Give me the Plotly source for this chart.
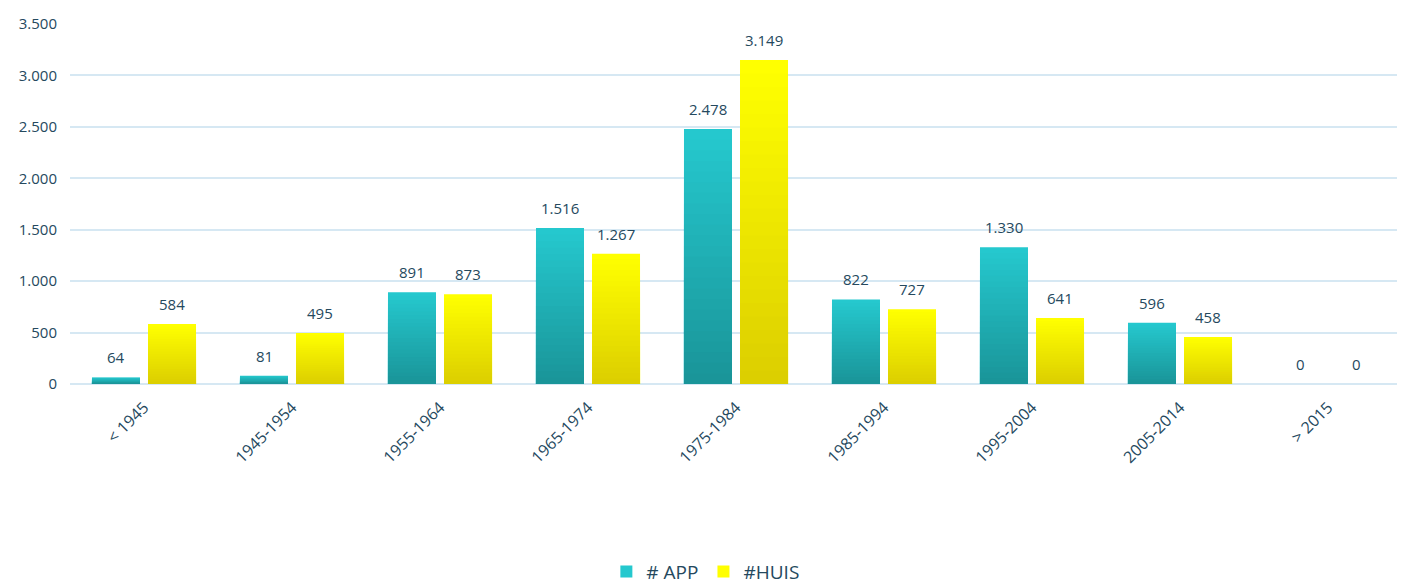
import plotly.graph_objects as go

categories = ["< 1945", "1945-1954", "1955-1964", "1965-1974", "1975-1984",
              "1985-1994", "1995-2004", "2005-2014", "> 2015"]
app_values = [64, 81, 891, 1516, 2478, 822, 1330, 596, 0]
huis_values = [584, 495, 873, 1267, 3149, 727, 641, 458, 0]
series_names = ["# APP", "#HUIS"]
y_ticks = [0, 500, 1000, 1500, 2000, 2500, 3000, 3500]

FONT = "Open Sans"
TEXT_COL = "#25495e"
APP_TOP, APP_BOTTOM = (37, 200, 206), (26, 149, 153)
HUIS_TOP, HUIS_BOTTOM = (255, 255, 0), (220, 207, 0)
N_BANDS = 24

def mix(c1, c2, t):
    return "rgb(%d,%d,%d)" % tuple(round(a + (b - a) * t) for a, b in zip(c1, c2))

fig = go.Figure()
for name, vals, top, bottom, grp in ((series_names[0], app_values, APP_TOP, APP_BOTTOM, "app"),
                                     (series_names[1], huis_values, HUIS_TOP, HUIS_BOTTOM, "huis")):
    for k in range(N_BANDS):
        frac = 1 - k / N_BANDS
        t = k / (N_BANDS - 1)
        fig.add_trace(go.Bar(
            x=categories, y=[v * frac for v in vals], name=name, offsetgroup=grp,
            legendgroup=grp, showlegend=(k == 0), hoverinfo="skip" if k else None,
            marker=dict(color=mix(top, bottom, t), line=dict(width=0)),
        ))

def fmt(v):
    return f"{v:,}".replace(",", ".")

annotations = []
for i, c in enumerate(categories):
    for vals, shift in ((app_values, -28), (huis_values, 28)):
        annotations.append(dict(x=c, y=vals[i], xref="x", yref="y", text=fmt(vals[i]),
                                showarrow=False, xshift=shift, yshift=8, yanchor="bottom",
                                font=dict(family=FONT, size=15, color=TEXT_COL)))

# the page body adds an 8px offset, so margins compensate for it
fig.update_layout(
    width=1405, height=584,
    margin=dict(l=62, r=11, t=16, b=208, autoexpand=False),
    paper_bgcolor="white", plot_bgcolor="white",
    barmode="group", bargap=0.243, bargroupgap=0.143,
    separators=",.",
    font=dict(family=FONT, size=15, color=TEXT_COL),
    showlegend=True,
    legend=dict(orientation="h", x=0.477, xanchor="center", y=-0.521, yanchor="middle",
                font=dict(family=FONT, size=19, color=TEXT_COL), itemwidth=30,
                traceorder="normal"),
    annotations=annotations,
    xaxis=dict(tickangle=-45, showgrid=False, showline=False, ticks="", automargin=False,
               ticklabelstandoff=10,
               tickfont=dict(family=FONT, size=16, color=TEXT_COL)),
    yaxis=dict(range=[0, 3500], tickvals=y_ticks, ticktext=[fmt(v) for v in y_ticks],
               showgrid=True, gridcolor="#d6e8f3", gridwidth=1.5, automargin=False,
               zeroline=True, zerolinecolor="#d6e8f3", zerolinewidth=1.5,
               ticklabelstandoff=12,
               tickfont=dict(family=FONT, size=15, color=TEXT_COL)),
)

fig.write_html("out.html")
